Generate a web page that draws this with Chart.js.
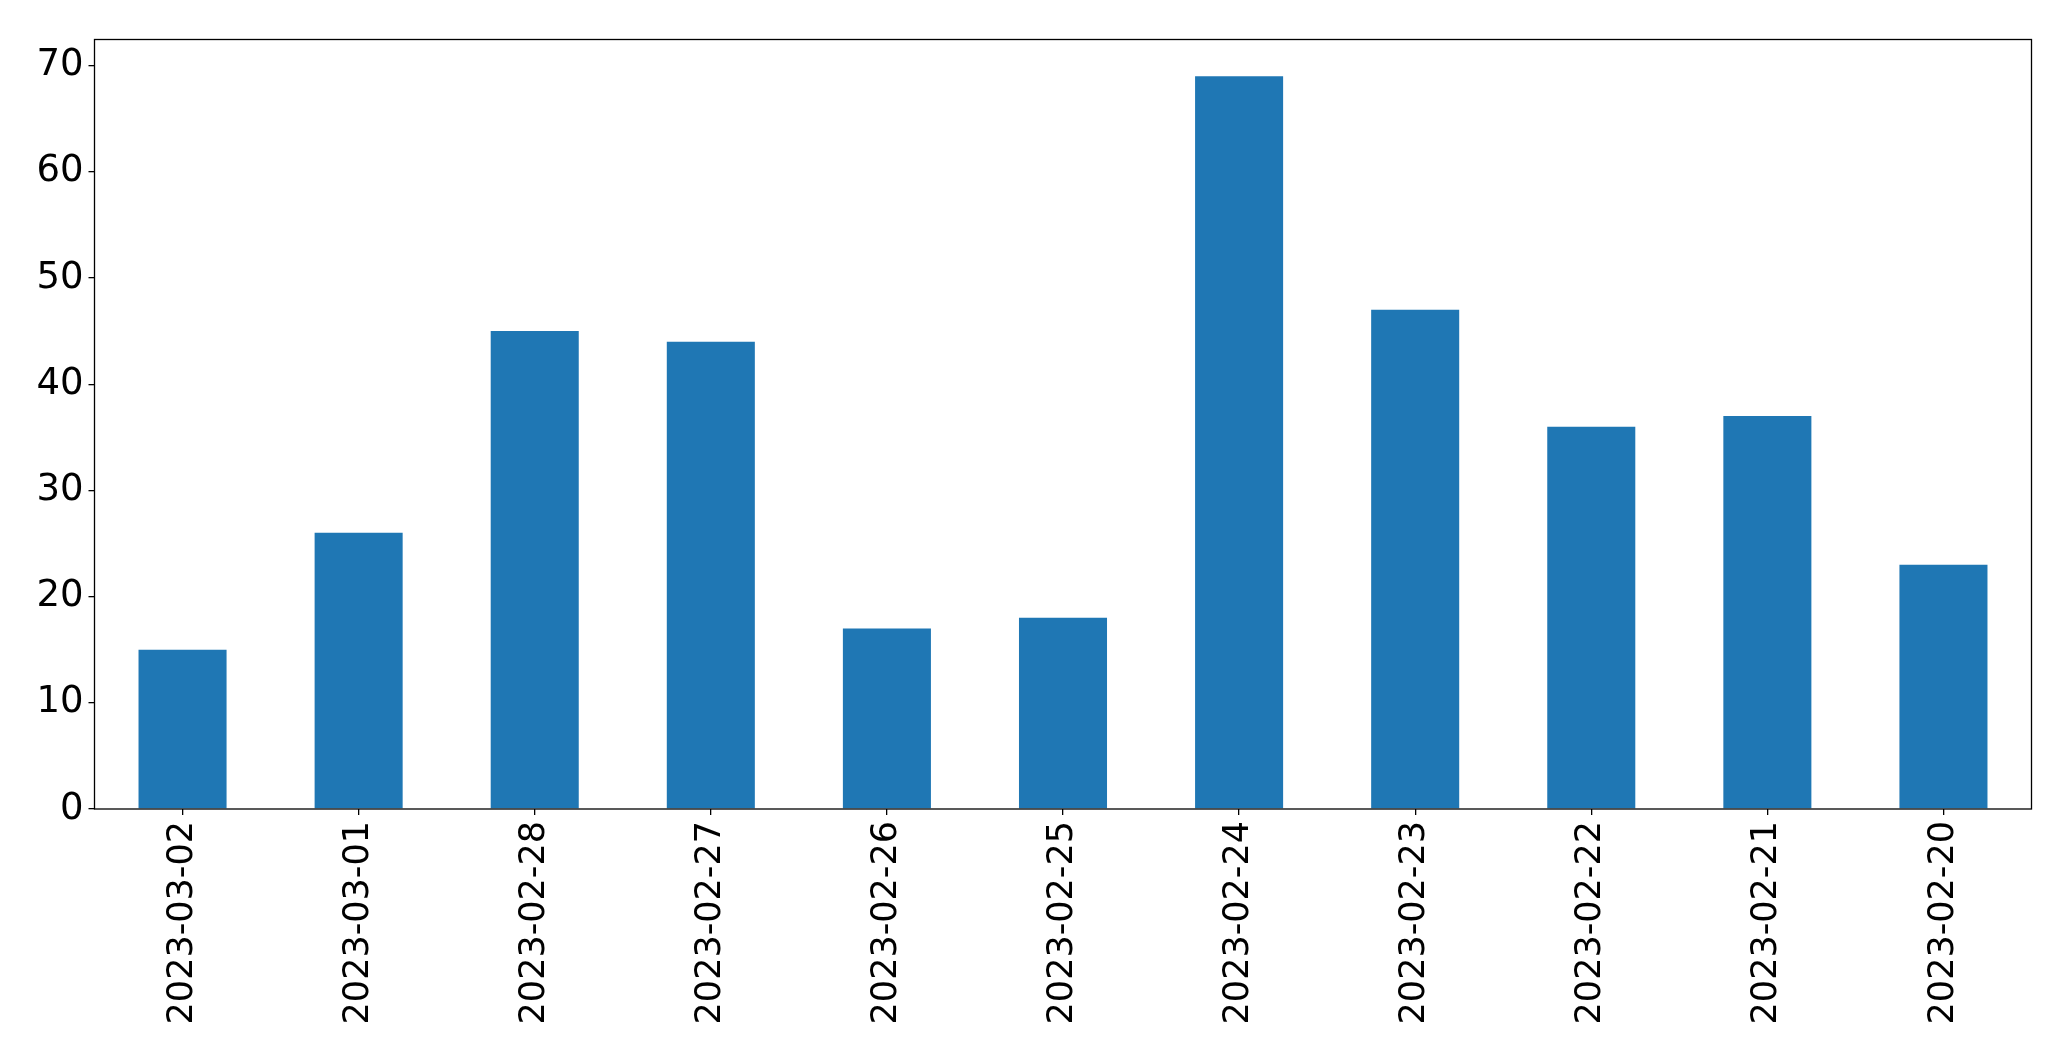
<!DOCTYPE html>
<html>
<head>
<meta charset="utf-8">
<script src="https://cdn.jsdelivr.net/npm/chart.js@4"></script>
<style>
  html, body { margin: 0; padding: 0; background: #fff; }
  #wrap { width: 2071px; height: 1061px; }
</style>
</head>
<body>
<div id="wrap"><canvas id="barChart" width="2071" height="1061"></canvas></div>
<script>
const dates = ['2023-03-02', '2023-03-01', '2023-02-28', '2023-02-27', '2023-02-26', '2023-02-25',
  '2023-02-24', '2023-02-23', '2023-02-22', '2023-02-21', '2023-02-20'];
const counts = [15, 26, 45, 44, 17, 18, 69, 47, 36, 37, 23];
const yTicks = [0, 10, 20, 30, 40, 50, 60, 70];

const frame = {
  id: 'frame',
  afterDraw(chart) {
    const a = chart.chartArea;
    const c = chart.ctx;
    c.save();
    c.strokeStyle = '#000';
    c.lineWidth = 1.3;
    c.strokeRect(a.left, a.top, a.right - a.left, a.bottom - a.top);
    c.restore();
  }
};

document.addEventListener('DOMContentLoaded', function () {
  const ctx = document.getElementById('barChart').getContext('2d');
  new Chart(ctx, {
    type: 'bar',
    data: {
      labels: dates,
      datasets: [{
        data: counts,
        backgroundColor: '#1f77b4',
        borderWidth: 0,
        categoryPercentage: 1,
        barPercentage: 0.5
      }]
    },
    options: {
      responsive: false,
      animation: false,
      layout: { padding: { left: 0, top: 39.5, right: 39.5, bottom: 0 } },
      plugins: { legend: { display: false }, tooltip: { enabled: false } },
      scales: {
        x: {
          offset: true,
          grid: { display: true, drawOnChartArea: false, offset: false, color: '#000', tickLength: 6, lineWidth: 1.3 },
          border: { display: false },
          ticks: {
            color: '#000', font: { family: 'DejaVu Sans', size: 35 },
            minRotation: 90, maxRotation: 90, padding: 6, autoSkip: false
          },
          afterFit(scale) { scale.height = 252; }
        },
        y: {
          min: 0,
          max: 72.45,
          grid: { display: true, drawOnChartArea: false, color: '#000', tickLength: 6, lineWidth: 1.3 },
          border: { display: false },
          ticks: { color: '#000', font: { family: 'DejaVu Sans', size: 37 }, padding: 5 },
          afterBuildTicks(scale) { scale.ticks = yTicks.map(v => ({ value: v })); },
          afterFit(scale) { scale.width = 94.5; }
        }
      }
    },
    plugins: [frame]
  });
});
</script>
</body>
</html>
